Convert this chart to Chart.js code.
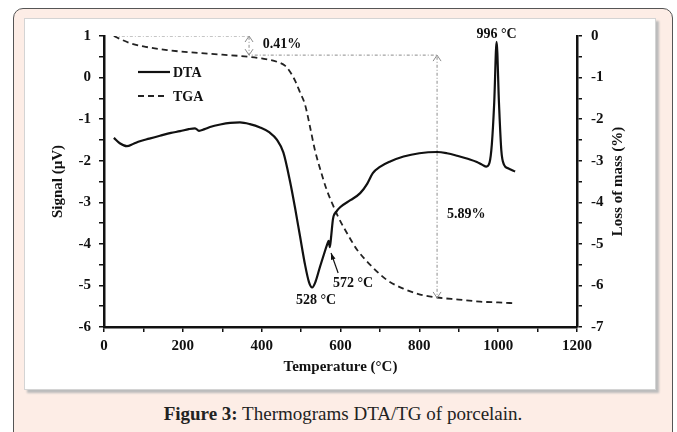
<!DOCTYPE html>
<html>
<head>
<meta charset="utf-8">
<script src="https://cdn.jsdelivr.net/npm/chart.js@4.4.1/dist/chart.umd.min.js"></script>
<style>
  body { margin: 0; width: 677px; height: 432px; overflow: hidden; position: relative; background: #fff; font-family: "Liberation Serif", serif; }
  #frame { position: absolute; left: 13px; top: 8px; width: 660px; height: 460px; box-sizing: border-box; border: 1.5px solid #555; border-radius: 10px; background: #fdede6; }
  #panel { position: absolute; left: 24px; top: 18px; width: 632px; height: 372px; box-sizing: border-box; background: #fff; border: 1px solid #d4d4d4; box-shadow: 3px 3px 2px #bcbcbc; }
  #chart { position: absolute; left: 24px; top: 18px; }
  #caption { position: absolute; left: 13px; width: 660px; top: 403px; text-align: center; font-size: 19px; color: #222; }
</style>
</head>
<body>
<div id="frame"></div>
<div id="panel"></div>
<canvas id="chart" width="632" height="372"></canvas>
<div id="caption"><b>Figure 3:</b> Thermograms DTA/TG of porcelain.</div>
<script>
// DTA signal (µV) vs temperature (°C)
const tempDTA = [25, 40, 58, 75, 91, 115, 142, 170, 193, 215, 231, 241, 255, 269, 295, 320, 345, 370, 396, 420,
    439, 455, 472, 485, 497, 510, 520, 528, 537, 548, 558, 566, 570, 573, 576, 581, 590, 599, 625, 650,
    668, 682, 700, 726, 760, 800, 845, 870, 896, 925, 946, 960, 970, 978, 984, 990, 996, 1002, 1008, 1015,
    1025, 1043];
const signalDTA = [-1.45, -1.58, -1.65, -1.59, -1.53, -1.47, -1.40, -1.33, -1.29, -1.24, -1.22, -1.28, -1.24, -1.19, -1.13, -1.09, -1.08, -1.12, -1.20, -1.32,
    -1.50, -1.80, -2.50, -3.15, -3.80, -4.50, -4.92, -5.05, -4.90, -4.55, -4.25, -4.02, -3.93, -4.08, -3.85, -3.40, -3.22, -3.12, -2.95, -2.78,
    -2.55, -2.30, -2.15, -2.02, -1.90, -1.82, -1.79, -1.82, -1.88, -1.96, -2.03, -2.10, -2.14, -2.05, -1.60, -0.60, 0.86, -0.60, -1.75, -2.10,
    -2.18, -2.26];

// TGA loss of mass (%) vs temperature (°C)
const tempTGA = [25, 45, 66, 100, 160, 244, 300, 345, 400, 439, 460, 472, 485, 497, 510, 523, 535, 550, 565, 580,
    594, 620, 642, 680, 718, 760, 802, 845, 900, 954, 1000, 1045];
const lossTGA = [0.0, -0.09, -0.17, -0.25, -0.34, -0.41, -0.45, -0.48, -0.54, -0.62, -0.72, -0.86, -1.08, -1.35, -1.65, -2.20, -2.74, -3.25, -3.70, -4.05,
    -4.35, -4.80, -5.14, -5.55, -5.87, -6.08, -6.22, -6.29, -6.34, -6.39, -6.41, -6.43];

// dotted guides marking the two mass-loss steps
const guideTemp = [25, 368, 368, 845, 845];
const guideLoss = [0, 0, -0.46, -0.46, -6.30];

const xLabels = [0, 200, 400, 600, 800, 1000, 1200];

const serif = '"Liberation Serif", "Times New Roman", serif';
const guideColor = '#8c8c8c';

const toPoints = (xs, ys) => xs.map((v, i) => ({x: v, y: ys[i]}));

const arrowHeads = [
    {t: 368, loss: 0, dir: -1},
    {t: 368, loss: -0.46, dir: 1},
    {t: 845, loss: -0.46, dir: -1},
    {t: 845, loss: -6.30, dir: 1}
];

const notes = [
    {text: '996 °C', t: 996, v: 1.03, axis: 'y', align: 'center'},
    {text: '528 °C', t: 538, v: -5.35, axis: 'y', align: 'center'},
    {text: '572 °C', t: 632, v: -4.94, axis: 'y', align: 'center'},
    {text: '0.41%', t: 403, v: -0.19, axis: 'y2', align: 'left'},
    {text: '5.89%', t: 870, v: -4.28, axis: 'y2', align: 'left'}
];

const overlay = {
    id: 'overlay',
    afterDatasetsDraw(chart) {
        const {ctx, chartArea, scales} = chart;
        const x = scales.x, y = scales.y, y2 = scales.y2;
        ctx.save();

        // open arrow heads on the guides
        ctx.strokeStyle = guideColor;
        ctx.lineWidth = 1;
        ctx.setLineDash([]);
        arrowHeads.forEach(a => {
            const px = x.getPixelForValue(a.t), py = y2.getPixelForValue(a.loss);
            ctx.beginPath();
            ctx.moveTo(px - 4, py - a.dir * 6);
            ctx.lineTo(px, py);
            ctx.lineTo(px + 4, py - a.dir * 6);
            ctx.stroke();
        });

        // arrow pointing at the 572 °C shoulder
        const tx = x.getPixelForValue(594), ty = y.getPixelForValue(-4.70);
        const hx = x.getPixelForValue(576), hy = y.getPixelForValue(-4.22);
        const ang = Math.atan2(hy - ty, hx - tx);
        ctx.strokeStyle = '#111';
        ctx.fillStyle = '#111';
        ctx.lineWidth = 1.2;
        ctx.beginPath();
        ctx.moveTo(tx, ty);
        ctx.lineTo(hx, hy);
        ctx.stroke();
        ctx.beginPath();
        ctx.moveTo(hx, hy);
        ctx.lineTo(hx - 7 * Math.cos(ang - 0.35), hy - 7 * Math.sin(ang - 0.35));
        ctx.lineTo(hx - 7 * Math.cos(ang + 0.35), hy - 7 * Math.sin(ang + 0.35));
        ctx.closePath();
        ctx.fill();

        // text notes
        ctx.font = 'bold 14px ' + serif;
        ctx.textBaseline = 'middle';
        notes.forEach(n => {
            const sc = n.axis === 'y' ? y : y2;
            ctx.textAlign = n.align;
            ctx.fillText(n.text, x.getPixelForValue(n.t), sc.getPixelForValue(n.v));
        });

        // legend inside the plot
        const items = chart.data.datasets.slice(0, 2);
        items.forEach((ds, i) => {
            const ly = chartArea.top + 36 + i * 24;
            const lx = chartArea.left + 34;
            ctx.strokeStyle = ds.borderColor;
            ctx.lineWidth = ds.borderWidth;
            ctx.setLineDash(ds.borderDash || []);
            ctx.beginPath();
            ctx.moveTo(lx, ly);
            ctx.lineTo(lx + (i === 0 ? 32 : 28), ly);
            ctx.stroke();
            ctx.setLineDash([]);
            ctx.fillStyle = '#111';
            ctx.textAlign = 'left';
            ctx.fillText(ds.label, lx + 35, ly + 1);
        });

        ctx.restore();
    },
    afterDraw(chart) {
        // right axis title reads bottom-to-top, like the left one
        const {ctx, chartArea, scales} = chart;
        ctx.save();
        ctx.translate(scales.y2.left + 41, (chartArea.top + chartArea.bottom) / 2);
        ctx.rotate(-Math.PI / 2);
        ctx.font = 'bold 15px ' + serif;
        ctx.fillStyle = '#111';
        ctx.textAlign = 'center';
        ctx.textBaseline = 'middle';
        ctx.fillText('Loss of mass (%)', 0, 0);
        ctx.restore();
    }
};

const tickFont = {family: serif, size: 15, weight: 'bold'};
const axisGrid = {drawOnChartArea: false, drawTicks: true, tickLength: 5, color: '#111', lineWidth: 1.5};
const axisBorder = {display: true, color: '#111', width: 2.5};

new Chart(document.getElementById('chart'), {
    type: 'line',
    data: {
        datasets: [
            {
                label: 'DTA',
                data: toPoints(tempDTA, signalDTA),
                yAxisID: 'y',
                borderColor: '#111',
                borderWidth: 2.2,
                pointRadius: 0,
                cubicInterpolationMode: 'monotone'
            },
            {
                label: 'TGA',
                data: toPoints(tempTGA, lossTGA),
                yAxisID: 'y2',
                borderColor: '#222',
                borderWidth: 1.8,
                borderDash: [6, 4],
                pointRadius: 0,
                cubicInterpolationMode: 'monotone'
            },
            {
                label: 'guides',
                data: toPoints(guideTemp, guideLoss),
                yAxisID: 'y2',
                borderColor: guideColor,
                borderWidth: 1,
                borderDash: [3, 2, 1, 2],
                pointRadius: 0,
                tension: 0
            }
        ]
    },
    options: {
        responsive: false,
        animation: false,
        devicePixelRatio: 1,
        layout: {padding: {top: 18, left: 0, right: 0, bottom: 0}},
        plugins: {legend: {display: false}, tooltip: {enabled: false}},
        scales: {
            x: {
                type: 'linear',
                min: 0,
                max: 1200,
                afterFit: s => { s.height = 63; },
                ticks: {
                    stepSize: 100,
                    autoSkip: false,
                    maxRotation: 0,
                    padding: 5,
                    color: '#111',
                    font: tickFont,
                    callback: v => xLabels.includes(v) ? String(v) : ''
                },
                grid: axisGrid,
                border: axisBorder,
                title: {display: true, text: 'Temperature (°C)', color: '#111',
                    font: {family: serif, size: 15, weight: 'bold'}, padding: {top: 0, bottom: 14}}
            },
            y: {
                position: 'left',
                min: -6,
                max: 1,
                afterFit: s => { s.width = 80; },
                ticks: {
                    stepSize: 0.5,
                    autoSkip: false,
                    padding: 8,
                    color: '#111',
                    font: tickFont,
                    callback: v => Number.isInteger(v) ? String(v) : ''
                },
                grid: axisGrid,
                border: axisBorder,
                title: {display: true, text: 'Signal (µV)', color: '#111',
                    font: {family: serif, size: 15, weight: 'bold'}, padding: {top: 25, bottom: 0}}
            },
            y2: {
                position: 'right',
                min: -7,
                max: 0,
                afterFit: s => { s.width = 79; },
                ticks: {
                    stepSize: 0.5,
                    autoSkip: false,
                    padding: 9,
                    color: '#111',
                    font: tickFont,
                    callback: v => Number.isInteger(v) ? String(v) : ''
                },
                grid: axisGrid,
                border: axisBorder
            }
        }
    },
    plugins: [overlay]
});
</script>
</body>
</html>
